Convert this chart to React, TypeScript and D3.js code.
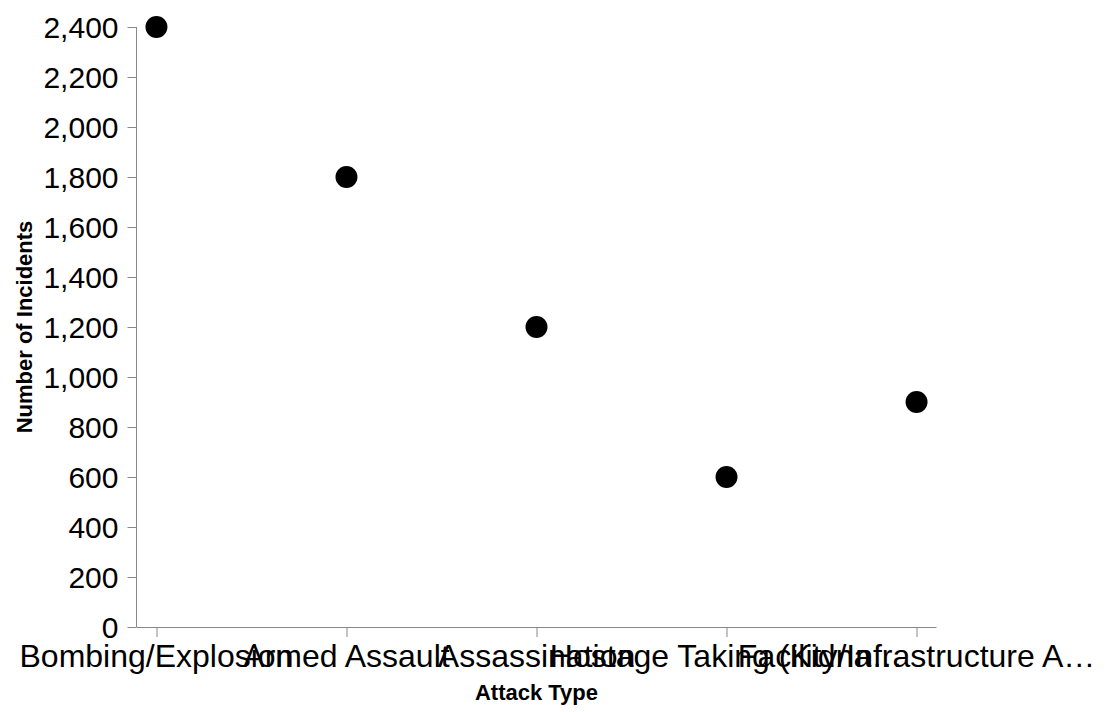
import React, { useEffect, useRef } from 'react';
import * as d3 from 'd3';

const attackTypes = [
  'Bombing/Explosion',
  'Armed Assault',
  'Assassination',
  'Hostage Taking (Kidnapping)',
  'Facility/Infrastructure Attack',
];
const incidents = [2400, 1800, 1200, 600, 900];
const yTicks = [0, 200, 400, 600, 800, 1000, 1200, 1400, 1600, 1800, 2000, 2200, 2400];

const W = 1108;
const H = 712;
const FONT = 'Liberation Sans, Arial, Helvetica, sans-serif';

const App = () => {
  const svgRef = useRef<SVGSVGElement | null>(null);

  useEffect(() => {
    if (!svgRef.current) return;
    const svg = d3.select(svgRef.current);
    svg.selectAll('*').remove();

    const margin = { left: 136.5, top: 27, right: 171.5, bottom: 85 };
    const innerW = W - margin.left - margin.right;
    const innerH = H - margin.top - margin.bottom;

    const g = svg.append('g').attr('transform', `translate(${margin.left},${margin.top})`);

    const x = d3.scalePoint<string>().domain(attackTypes).range([0, innerW]).padding(0.105);
    const y = d3.scaleLinear().domain([0, 2400]).range([innerH, 0]);

    const axisColor = '#888';
    const tickLen = 9;

    // y axis
    const yAxis = g.append('g');
    yAxis.append('line')
      .attr('x1', 0).attr('x2', 0)
      .attr('y1', 0).attr('y2', innerH)
      .attr('stroke', axisColor).attr('stroke-width', 1);
    yTicks.forEach(t => {
      const yy = Math.round(y(t)) + 0.5;
      yAxis.append('line')
        .attr('x1', -tickLen).attr('x2', 0)
        .attr('y1', yy).attr('y2', yy)
        .attr('stroke', axisColor);
      yAxis.append('text')
        .attr('x', -tickLen - 9).attr('y', y(t))
        .attr('dy', '0.36em')
        .attr('text-anchor', 'end')
        .attr('font-family', FONT).attr('font-size', 30)
        .attr('fill', '#000')
        .text(d3.format(',')(t));
    });

    // x axis
    const xAxis = g.append('g');
    xAxis.append('line')
      .attr('x1', 0).attr('x2', innerW)
      .attr('y1', innerH + 0.5).attr('y2', innerH + 0.5)
      .attr('stroke', axisColor);
    const labelLimit = 366;
    attackTypes.forEach(c => {
      const xx = Math.round(x(c)!) + 0.5;
      xAxis.append('line')
        .attr('x1', xx).attr('x2', xx)
        .attr('y1', innerH).attr('y2', innerH + tickLen + 1)
        .attr('stroke', axisColor);
      const label = xAxis.append('text')
        .attr('x', x(c)!).attr('y', innerH + 40)
        .attr('text-anchor', 'middle')
        .attr('font-family', FONT).attr('font-size', 32)
        .attr('fill', '#000')
        .text(c);
      // truncate long labels with an ellipsis, like vega's labelLimit
      const node = label.node() as SVGTextElement;
      if (node.getComputedTextLength() > labelLimit) {
        let s = c;
        while (s.length > 1) {
          s = s.slice(0, -1);
          label.text(s + '…');
          if (node.getComputedTextLength() <= labelLimit) break;
        }
      }
    });

    // axis titles
    g.append('text')
      .attr('x', innerW / 2).attr('y', innerH + 73)
      .attr('text-anchor', 'middle')
      .attr('font-family', FONT).attr('font-size', 22).attr('font-weight', 'bold')
      .attr('fill', '#000')
      .text('Attack Type');

    g.append('text')
      .attr('transform', `translate(${-margin.left + 32},${innerH / 2}) rotate(-90)`)
      .attr('text-anchor', 'middle')
      .attr('font-family', FONT).attr('font-size', 22).attr('font-weight', 'bold')
      .attr('fill', '#000')
      .text('Number of Incidents');

    // points
    g.selectAll('circle.pt')
      .data(attackTypes)
      .join('circle')
      .attr('class', 'pt')
      .attr('cx', d => x(d)!)
      .attr('cy', (d, i) => y(incidents[i]))
      .attr('r', 11)
      .attr('fill', '#000');
  }, []);

  return (
    <svg
      ref={svgRef}
      width={W}
      height={H}
      style={{ position: 'absolute', left: 0, top: 0, background: '#fff' }}
    />
  );
};

export default App;
